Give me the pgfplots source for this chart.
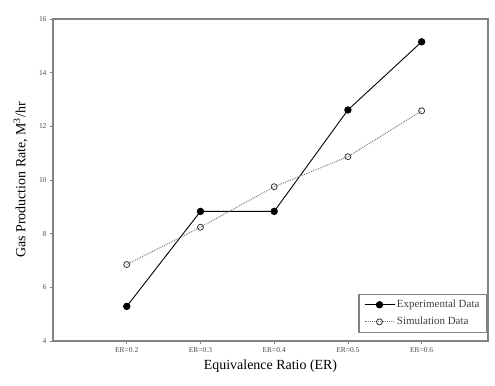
\documentclass[border=0pt]{standalone}
\usepackage{pgfplots}
\pgfplotsset{compat=1.18}
\usepackage{fontspec}
\setmainfont{Liberation Serif}
\definecolor{axgray}{RGB}{130,130,130}
\begin{document}
\begin{tikzpicture}
\useasboundingbox (-53bp,-45bp) rectangle (442bp,341bp);
\begin{axis}[
  at={(0,0)}, anchor=south west,
  scale only axis, width=435bp, height=322bp,
  xmin=-1, xmax=4.9, ymin=4, ymax=16,
  xtick={0,1,2,3,4},
  xticklabels={ER=0.2,ER=0.3,ER=0.4,ER=0.5,ER=0.6},
  ytick={4,6,...,16},
  tick align=outside,
  xtick pos=bottom, ytick pos=left,
  major tick length=3bp,
  axis line style={axgray, line width=1.6bp},
  tick style={axgray, line width=0.8bp},
  tick label style={font=\fontsize{7.5}{8}\selectfont, text=black!70},
  /pgf/number format/assume math mode=true,
  xlabel={Equivalence Ratio (ER)},
  ylabel={Gas Production Rate, M\textsuperscript{3}/hr},
  label style={font=\fontsize{14}{16}\selectfont},
  xlabel style={at={(axis description cs:0.5,0)}, anchor=north, yshift=-15bp},
  ylabel style={at={(axis description cs:0,0.5)}, anchor=south, xshift=0bp, yshift=22bp},
  legend style={at={(rel axis cs:1,0)}, anchor=south east, xshift=-1bp, yshift=8bp,
    draw=axgray, line width=1.2bp, font=\fontsize{11}{13}\selectfont, text=black!75,
    inner xsep=5bp, inner ysep=4bp, row sep=4bp},
  legend image code/.code={
    \draw[mark repeat=2,mark phase=2,#1] plot coordinates {(0bp,0bp) (15bp,0bp) (30bp,0bp)};},
  legend cell align=left,
  clip=false,
]
\addplot[black, line width=0.9bp, mark=*, mark size=3.2bp, mark options={solid}]
  coordinates {(0,5.29) (1,8.83) (2,8.83) (3,12.61) (4,15.15)};
\addlegendentry{Experimental Data}
\addplot[black!55, line width=0.9bp, densely dotted, mark=o, mark size=3bp, mark options={solid, black!80, line width=0.8bp, fill=white}]
  coordinates {(0,6.85) (1,8.24) (2,9.75) (3,10.87) (4,12.58)};
\addlegendentry{Simulation Data}
\end{axis}
\end{tikzpicture}
\end{document}
